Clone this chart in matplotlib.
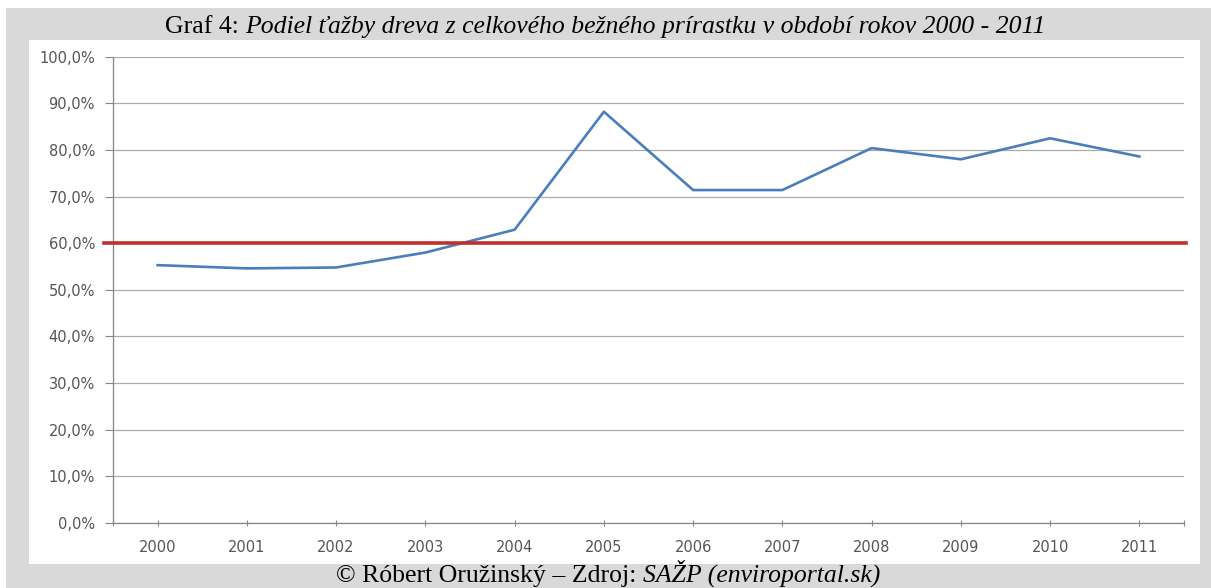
import matplotlib
matplotlib.use('Agg')
import matplotlib.pyplot as plt
from matplotlib.patches import Rectangle
from matplotlib.ticker import FuncFormatter

# Data (share of harvest in %)
years = ['2000', '2001', '2002', '2003', '2004', '2005',
         '2006', '2007', '2008', '2009', '2010', '2011']
share = [55.3, 54.6, 54.8, 58.0, 62.9, 88.2,
         71.4, 71.4, 80.4, 78.0, 82.5, 78.6]
limit = 60.0

W, H = 1211, 588
fig = plt.figure(figsize=(W / 100, H / 100), dpi=100)
fig.patch.set_facecolor('white')

# gray frame and white chart area
fig.patches.append(Rectangle((6 / W, 0), 1, 580 / H, transform=fig.transFigure,
                             facecolor='#d9d9d9', edgecolor='none', zorder=-2))
fig.patches.append(Rectangle((29 / W, 24 / H), 1171 / W, 524 / H, transform=fig.transFigure,
                             facecolor='white', edgecolor='none', zorder=-1))

ax = fig.add_axes([113 / W, 65 / H, 1071 / W, 466.3 / H])
ax.set_facecolor('none')

x = list(range(len(years)))
ax.plot(x, share, color='#4a7ebb', linewidth=1.9, zorder=3)
ax.axhline(limit, xmin=-0.008, xmax=1.002, color='#c0302c', linewidth=2.6,
           clip_on=False, zorder=4)

ax.set_xlim(-0.5, len(years) - 0.5)
ax.set_ylim(0, 100)
ax.set_yticks(range(0, 101, 10))
ax.yaxis.set_major_formatter(FuncFormatter(lambda v, p: f'{v:.1f}%'.replace('.', ',')))
ax.set_xticks(x)
ax.set_xticklabels(years)
ax.set_xticks([-0.5, len(years) - 0.5], minor=True)

ax.grid(axis='y', color='#ababab', linewidth=0.9)
ax.set_axisbelow(True)
for s in ['top', 'right']:
    ax.spines[s].set_visible(False)
for s in ['left', 'bottom']:
    ax.spines[s].set_color('#868686')
    ax.spines[s].set_linewidth(0.9)

ax.tick_params(axis='y', direction='out', length=6, width=0.8, color='#868686',
               labelsize=10.5, labelcolor='#555555', pad=7)
ax.tick_params(axis='x', which='both', direction='inout', length=5, width=0.8,
               color='#868686', labelsize=10.5, labelcolor='#555555', pad=10)
for lab in ax.get_xticklabels() + ax.get_yticklabels():
    lab.set_family('DejaVu Sans')


def mixed_text(parts, cx, y, size):
    # draw regular + italic pieces centered on cx
    r = fig.canvas.get_renderer()
    texts = []
    for s, style in parts:
        t = fig.text(0, y, s, fontsize=size, family='Liberation Serif', style=style,
                     va='baseline', ha='left')
        texts.append(t)
    widths = [t.get_window_extent(r).width for t in texts]
    total = sum(widths)
    left = cx * W - total / 2
    for t, w in zip(texts, widths):
        t.set_x(left / W)
        left += w


mixed_text([('Graf 4: ', 'normal'),
            ('Podiel ťažby dreva z celkového bežného prírastku v období rokov 2000 - 2011', 'italic')],
           605 / W, 1 - 33 / H, 18.5)
mixed_text([('© Róbert Oružinský – Zdroj: ', 'normal'),
            ('SAŽP (enviroportal.sk)', 'italic')],
           608 / W, 1 - 582 / H, 18.5)

fig.savefig('out.png', dpi=100)
